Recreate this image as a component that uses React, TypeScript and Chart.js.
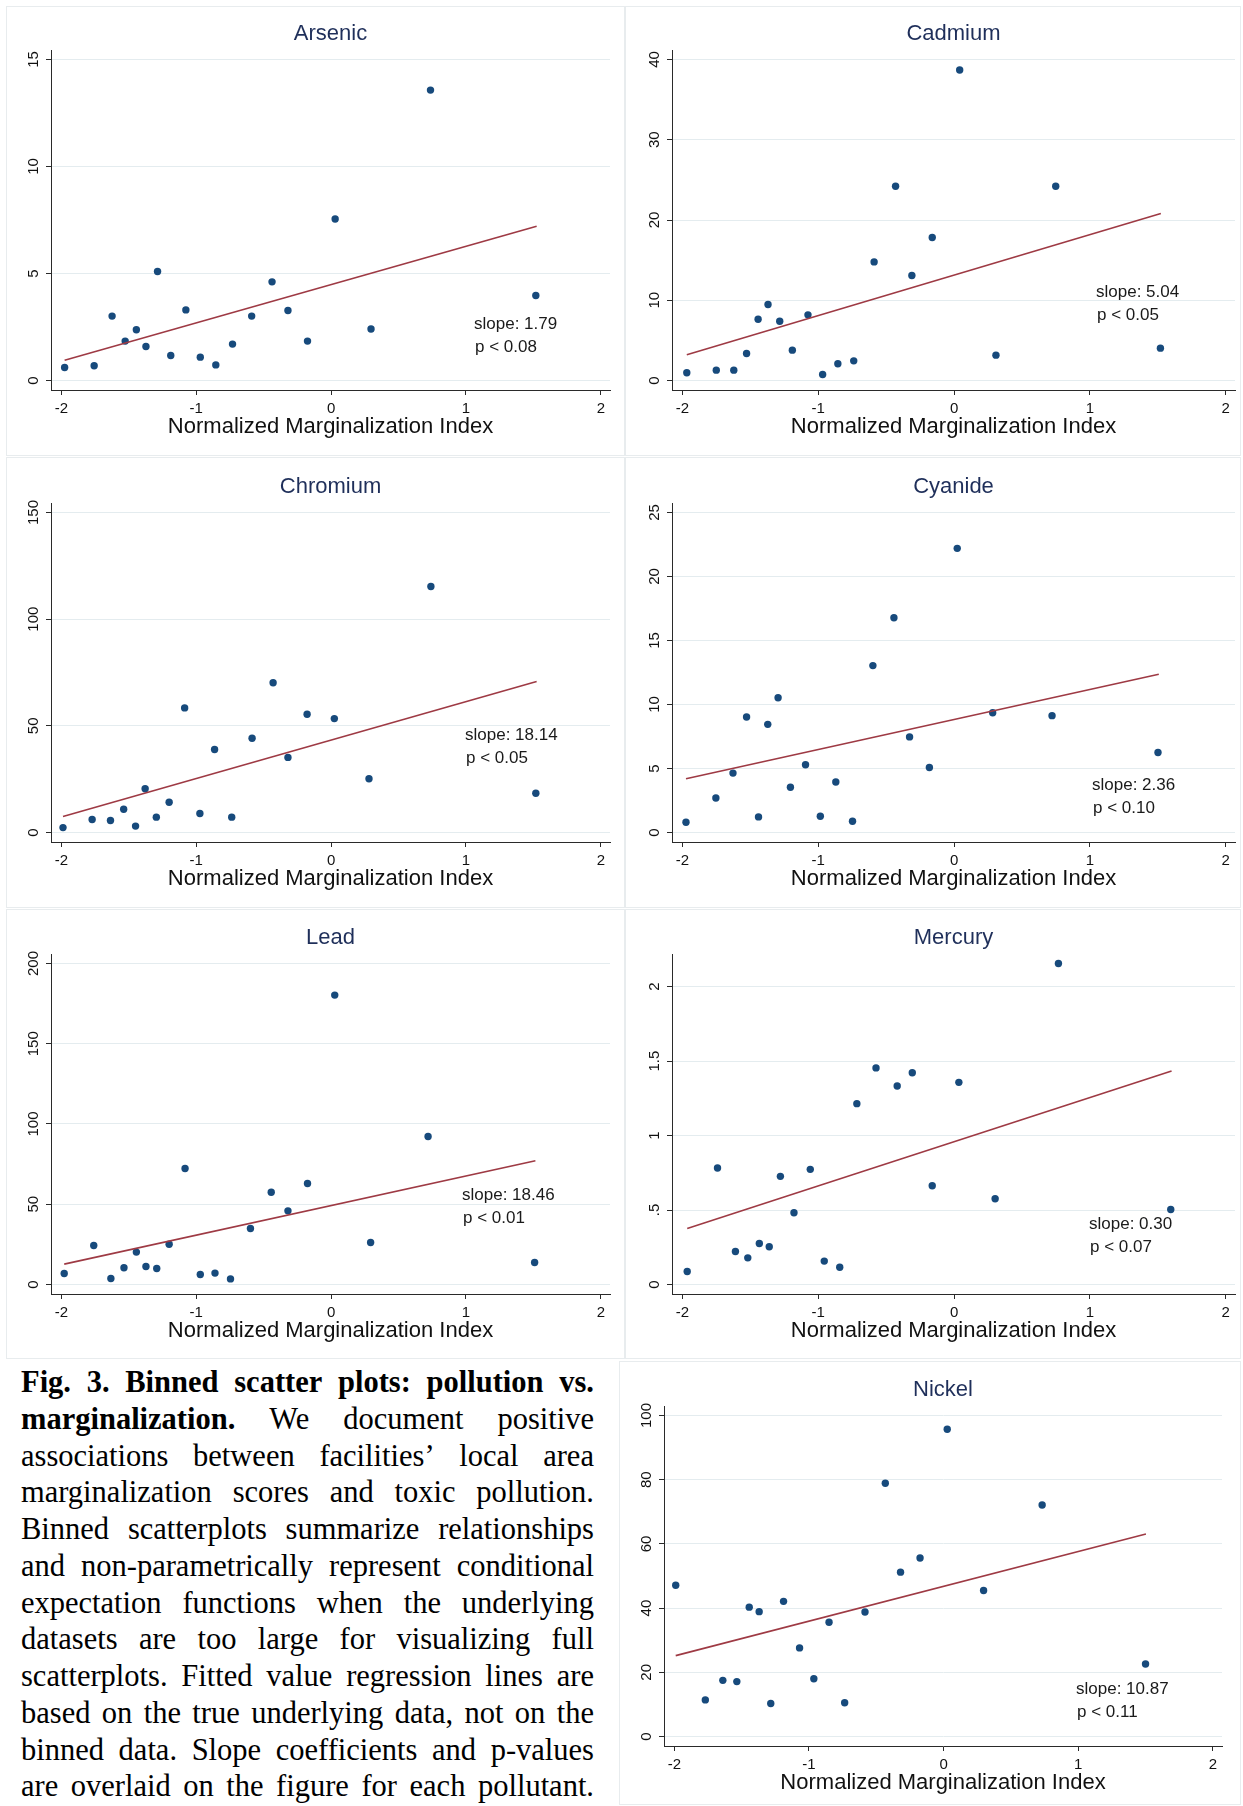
import React, { useEffect, useRef } from 'react';
import { Chart, registerables } from 'chart.js';

Chart.register(...registerables);

// ---------- data ----------
const xTicks = [-2, -1, 0, 1, 2];
const xTickLabels = ['-2', '-1', '0', '1', '2'];
const xAxisTitle = 'Normalized Marginalization Index';

const arsenicX = [-1.976, -1.757, -1.624, -1.527, -1.444, -1.373, -1.287, -1.189, -1.077, -0.97, -0.855, -0.731, -0.589, -0.438, -0.32, -0.175, 0.03, 0.296, 0.737, 1.518];
const arsenicY = [0.61, 0.69, 3.01, 1.84, 2.37, 1.59, 5.09, 1.17, 3.3, 1.09, 0.73, 1.7, 3.01, 4.61, 3.27, 1.84, 7.55, 2.41, 13.57, 3.97];
const arsenicFitX = [-1.976, 1.524];
const arsenicFitY = [0.95, 7.21];
const arsenicYTicks = [0, 5, 10, 15];
const arsenicYLabels = ['0', '5', '10', '15'];

const cadmiumX = [-1.968, -1.751, -1.622, -1.528, -1.443, -1.37, -1.284, -1.191, -1.076, -0.968, -0.856, -0.739, -0.589, -0.431, -0.311, -0.161, 0.041, 0.308, 0.748, 1.519];
const cadmiumY = [0.96, 1.29, 1.29, 3.36, 7.64, 9.47, 7.39, 3.78, 8.18, 0.75, 2.08, 2.45, 14.78, 24.21, 13.08, 17.82, 38.7, 3.16, 24.21, 4.03];
const cadmiumFitX = [-1.968, 1.522];
const cadmiumFitY = [3.2, 20.8];
const cadmiumYTicks = [0, 10, 20, 30, 40];
const cadmiumYLabels = ['0', '10', '20', '30', '40'];

const chromiumX = [-1.988, -1.772, -1.636, -1.538, -1.45, -1.379, -1.296, -1.201, -1.086, -0.973, -0.864, -0.737, -0.586, -0.43, -0.32, -0.178, 0.024, 0.281, 0.74, 1.518];
const chromiumY = [2.3, 6.1, 5.6, 10.9, 3.0, 20.5, 7.2, 14.2, 58.4, 8.9, 38.9, 7.2, 44.2, 70.2, 35.2, 55.4, 53.4, 25.2, 115.3, 18.4];
const chromiumFitX = [-1.988, 1.524];
const chromiumFitY = [7.5, 70.8];
const chromiumYTicks = [0, 50, 100, 150];
const chromiumYLabels = ['0', '50', '100', '150'];

const cyanideX = [-1.974, -1.754, -1.628, -1.528, -1.44, -1.372, -1.296, -1.205, -1.094, -0.985, -0.871, -0.748, -0.598, -0.443, -0.328, -0.182, 0.023, 0.284, 0.721, 1.501];
const cyanideY = [0.8, 2.7, 4.64, 9.02, 1.22, 8.45, 10.53, 3.53, 5.29, 1.27, 3.94, 0.88, 13.04, 16.78, 7.47, 5.08, 22.2, 9.36, 9.13, 6.25];
const cyanideFitX = [-1.974, 1.507];
const cyanideFitY = [4.2, 12.37];
const cyanideYTicks = [0, 5, 10, 15, 20, 25];
const cyanideYLabels = ['0', '5', '10', '15', '20', '25'];

const leadX = [-1.979, -1.76, -1.633, -1.536, -1.444, -1.373, -1.293, -1.201, -1.083, -0.97, -0.861, -0.746, -0.598, -0.444, -0.32, -0.175, 0.027, 0.293, 0.719, 1.509];
const leadY = [6.9, 24.3, 3.7, 10.4, 20.2, 11.2, 10.0, 25.1, 72.3, 6.2, 7.1, 3.5, 34.9, 57.5, 45.9, 62.9, 180.3, 26.2, 92.2, 13.7];
const leadFitX = [-1.979, 1.515];
const leadFitY = [12.7, 77.1];
const leadYTicks = [0, 50, 100, 150, 200];
const leadYLabels = ['0', '50', '100', '150', '200'];

const mercuryX = [-1.965, -1.742, -1.61, -1.519, -1.434, -1.361, -1.279, -1.179, -1.059, -0.956, -0.842, -0.716, -0.575, -0.419, -0.308, -0.161, 0.035, 0.302, 0.768, 1.595];
const mercuryY = [0.087, 0.782, 0.222, 0.179, 0.275, 0.253, 0.726, 0.482, 0.773, 0.157, 0.116, 1.214, 1.454, 1.333, 1.422, 0.663, 1.357, 0.576, 2.155, 0.504];
const mercuryFitX = [-1.965, 1.601];
const mercuryFitY = [0.376, 1.433];
const mercuryYTicks = [0, 0.5, 1, 1.5, 2];
const mercuryYLabels = ['0', '.5', '1', '1.5', '2'];

const nickelX = [-1.99, -1.77, -1.64, -1.536, -1.444, -1.37, -1.284, -1.189, -1.07, -0.964, -0.851, -0.735, -0.584, -0.433, -0.32, -0.175, 0.027, 0.297, 0.732, 1.5];
const nickelY = [47.1, 11.4, 17.5, 17.1, 40.3, 38.9, 10.3, 42.1, 27.6, 18.0, 35.6, 10.5, 38.8, 78.9, 51.2, 55.6, 95.7, 45.5, 72.1, 22.6];
const nickelFitX = [-1.99, 1.503];
const nickelFitY = [25.2, 63.1];
const nickelYTicks = [0, 20, 40, 60, 80, 100];
const nickelYLabels = ['0', '20', '40', '60', '80', '100'];

// caption: each line is a list of [word, bold]
const captionLines: [string, boolean][][] = [
  'Fig. 3. Binned scatter plots: pollution vs.'.split(' ').map((w) => [w, true] as [string, boolean]),
  [['marginalization.', true], ['We', false], ['document', false], ['positive', false]],
  ...[
    'associations between facilities\u2019 local area',
    'marginalization scores and toxic pollution.',
    'Binned scatterplots summarize relationships',
    'and non-parametrically represent conditional',
    'expectation functions when the underlying',
    'datasets are too large for visualizing full',
    'scatterplots. Fitted value regression lines are',
    'based on the true underlying data, not on the',
    'binned data. Slope coefficients and p-values',
    'are overlaid on the figure for each pollutant.',
  ].map((line) => line.split(' ').map((w) => [w, false] as [string, boolean])),
];

// ---------- layout / style ----------
const SANS = '"Liberation Sans", Arial, Helvetica, sans-serif';
const SERIF = '"Liberation Serif", "Times New Roman", serif';
const POINT_COLOR = '#174a7c';
const LINE_COLOR = '#9e3a44';
const TITLE_COLOR = '#1f2f5a';
const AXIS_COLOR = '#2a2a2a';
const GRID_COLOR = '#e4ecef';
const FRAME_COLOR = '#e8ecee';
const X_MIN = -2.077;
const X_MAX = 2.068;
const Y_PAD_PX = 9.5;
const X_SCALE_H = 34;

type Rect = { x: number; y: number; w: number; h: number };
type Plot = { l: number; t: number; r: number; b: number };
type PanelCfg = {
  title: string;
  xs: number[];
  ys: number[];
  fitX: number[];
  fitY: number[];
  yTicks: number[];
  yLabels: string[];
  slope: string;
  p: string;
  note: [number, number];
  frame: Rect;
  plot: Plot;
};

const LEFT_FRAME_X = 6, LEFT_FRAME_W = 619;
const RIGHT_FRAME_X = 625, RIGHT_FRAME_W = 616;
const LEFT_PLOT = { l: 51, r: 610 };
const RIGHT_PLOT = { l: 672, r: 1235 };

const panels: PanelCfg[] = [
  {
    title: 'Arsenic', xs: arsenicX, ys: arsenicY, fitX: arsenicFitX, fitY: arsenicFitY,
    yTicks: arsenicYTicks, yLabels: arsenicYLabels, slope: 'slope: 1.79', p: 'p < 0.08', note: [423, 274],
    frame: { x: LEFT_FRAME_X, y: 6, w: LEFT_FRAME_W, h: 450 }, plot: { ...LEFT_PLOT, t: 50, b: 390 },
  },
  {
    title: 'Cadmium', xs: cadmiumX, ys: cadmiumY, fitX: cadmiumFitX, fitY: cadmiumFitY,
    yTicks: cadmiumYTicks, yLabels: cadmiumYLabels, slope: 'slope: 5.04', p: 'p < 0.05', note: [424, 242],
    frame: { x: RIGHT_FRAME_X, y: 6, w: RIGHT_FRAME_W, h: 450 }, plot: { ...RIGHT_PLOT, t: 50, b: 390 },
  },
  {
    title: 'Chromium', xs: chromiumX, ys: chromiumY, fitX: chromiumFitX, fitY: chromiumFitY,
    yTicks: chromiumYTicks, yLabels: chromiumYLabels, slope: 'slope: 18.14', p: 'p < 0.05', note: [414, 232],
    frame: { x: LEFT_FRAME_X, y: 457, w: LEFT_FRAME_W, h: 451 }, plot: { ...LEFT_PLOT, t: 503, b: 842 },
  },
  {
    title: 'Cyanide', xs: cyanideX, ys: cyanideY, fitX: cyanideFitX, fitY: cyanideFitY,
    yTicks: cyanideYTicks, yLabels: cyanideYLabels, slope: 'slope: 2.36', p: 'p < 0.10', note: [420, 282],
    frame: { x: RIGHT_FRAME_X, y: 457, w: RIGHT_FRAME_W, h: 451 }, plot: { ...RIGHT_PLOT, t: 503, b: 842 },
  },
  {
    title: 'Lead', xs: leadX, ys: leadY, fitX: leadFitX, fitY: leadFitY,
    yTicks: leadYTicks, yLabels: leadYLabels, slope: 'slope: 18.46', p: 'p < 0.01', note: [411, 241],
    frame: { x: LEFT_FRAME_X, y: 909, w: LEFT_FRAME_W, h: 450 }, plot: { ...LEFT_PLOT, t: 954, b: 1294 },
  },
  {
    title: 'Mercury', xs: mercuryX, ys: mercuryY, fitX: mercuryFitX, fitY: mercuryFitY,
    yTicks: mercuryYTicks, yLabels: mercuryYLabels, slope: 'slope: 0.30', p: 'p < 0.07', note: [417, 270],
    frame: { x: RIGHT_FRAME_X, y: 909, w: RIGHT_FRAME_W, h: 450 }, plot: { ...RIGHT_PLOT, t: 954, b: 1294 },
  },
  {
    title: 'Nickel', xs: nickelX, ys: nickelY, fitX: nickelFitX, fitY: nickelFitY,
    yTicks: nickelYTicks, yLabels: nickelYLabels, slope: 'slope: 10.87', p: 'p < 0.11', note: [412, 283],
    frame: { x: 619, y: 1361, w: 622, h: 444 }, plot: { l: 664, t: 1406, r: 1222, b: 1746 },
  },
];

function makeTextPlugin(cfg: PanelCfg) {
  return {
    id: 'panelText' + cfg.title,
    afterDraw(chart: any) {
      const { ctx, chartArea, scales } = chart;
      const yScale = scales.y;
      ctx.save();
      // panel title
      ctx.fillStyle = TITLE_COLOR;
      ctx.font = `22px ${SANS}`;
      ctx.textAlign = 'center';
      ctx.textBaseline = 'middle';
      ctx.fillText(cfg.title, (chartArea.left + chartArea.right) / 2, chartArea.top - 16);
      // x-axis title
      ctx.fillStyle = '#111111';
      ctx.fillText(xAxisTitle, (chartArea.left + chartArea.right) / 2, chartArea.bottom + 37);
      // rotated y tick labels
      ctx.font = `15px ${SANS}`;
      cfg.yTicks.forEach((v, i) => {
        const py = yScale.getPixelForValue(v);
        ctx.save();
        ctx.translate(chartArea.left - 17, py);
        ctx.rotate(-Math.PI / 2);
        ctx.textAlign = 'center';
        ctx.textBaseline = 'middle';
        ctx.fillText(cfg.yLabels[i], 0, 0);
        ctx.restore();
      });
      // slope / p notes
      ctx.font = `17px ${SANS}`;
      ctx.textAlign = 'left';
      ctx.textBaseline = 'middle';
      ctx.fillStyle = '#1a1a1a';
      ctx.fillText(cfg.slope, chartArea.left + cfg.note[0], chartArea.top + cfg.note[1]);
      ctx.fillText(cfg.p, chartArea.left + cfg.note[0] + 1, chartArea.top + cfg.note[1] + 23);
      ctx.restore();
    },
  };
}

function Panel({ cfg }: { cfg: PanelCfg }) {
  const ref = useRef<HTMLCanvasElement | null>(null);
  useEffect(() => {
    const canvas = ref.current;
    if (!canvas) return;
    const { frame, plot } = cfg;
    const yRange = Math.max(cfg.yTicks[cfg.yTicks.length - 1], Math.max(...cfg.ys));
    const unit = (plot.b - plot.t - 2 * Y_PAD_PX) / yRange;
    const yMin = -Y_PAD_PX / unit;
    const yMax = yRange + Y_PAD_PX / unit;
    const chart = new Chart(canvas, {
      type: 'scatter',
      data: {
        datasets: [
          {
            type: 'scatter',
            data: cfg.fitX.map((x, i) => ({ x, y: cfg.fitY[i] })),
            showLine: true,
            borderColor: LINE_COLOR,
            borderWidth: 1.6,
            pointRadius: 0,
            fill: false,
          } as any,
          {
            type: 'scatter',
            data: cfg.xs.map((x, i) => ({ x, y: cfg.ys[i] })),
            pointRadius: 3.7,
            pointBackgroundColor: POINT_COLOR,
            pointBorderWidth: 0,
            borderColor: POINT_COLOR,
          } as any,
        ],
      },
      options: {
        animation: false,
        responsive: false,
        devicePixelRatio: 1,
        layout: {
          padding: {
            left: plot.l - frame.x,
            top: plot.t - frame.y,
            right: frame.x + frame.w - plot.r,
            bottom: frame.y + frame.h - plot.b - X_SCALE_H,
          },
        },
        plugins: {
          legend: { display: false },
          tooltip: { enabled: false },
          title: { display: false },
        },
        scales: {
          x: {
            type: 'linear',
            min: X_MIN,
            max: X_MAX,
            bounds: 'data',
            afterFit: (s: any) => { s.height = X_SCALE_H; },
            afterBuildTicks: (s: any) => { s.ticks = xTicks.map((v) => ({ value: v })); },
            grid: { drawOnChartArea: false, drawTicks: true, tickLength: 5, tickColor: AXIS_COLOR, tickWidth: 1 },
            border: { display: true, color: AXIS_COLOR, width: 1 },
            ticks: {
              autoSkip: false,
              maxRotation: 0,
              minRotation: 0,
              padding: 5,
              color: '#111111',
              font: { family: SANS, size: 15 },
              callback: (v: any) => {
                const idx = xTicks.indexOf(Number(v));
                return idx >= 0 ? xTickLabels[idx] : '';
              },
            },
          },
          y: {
            type: 'linear',
            min: yMin,
            max: yMax,
            bounds: 'data',
            afterFit: (s: any) => { s.width = 0; },
            afterBuildTicks: (s: any) => { s.ticks = cfg.yTicks.map((v) => ({ value: v })); },
            grid: { drawOnChartArea: true, color: GRID_COLOR, lineWidth: 1, drawTicks: true, tickLength: 5, tickColor: AXIS_COLOR, tickWidth: 1 },
            border: { display: true, color: AXIS_COLOR, width: 1 },
            ticks: { display: false },
          },
        },
      } as any,
      plugins: [makeTextPlugin(cfg)],
    });
    return () => chart.destroy();
  }, [cfg]);
  const { frame } = cfg;
  return (
    <>
      <div
        style={{
          position: 'absolute', left: frame.x, top: frame.y, width: frame.w, height: frame.h,
          border: `1px solid ${FRAME_COLOR}`, boxSizing: 'border-box',
        }}
      />
      <canvas
        ref={ref}
        width={frame.w}
        height={frame.h}
        style={{ position: 'absolute', left: frame.x, top: frame.y, width: frame.w, height: frame.h }}
      />
    </>
  );
}

function Caption() {
  return (
    <div style={{ position: 'absolute', left: 21, top: 1364, width: 573, fontFamily: SERIF, fontSize: 30.5, color: '#000' }}>
      {captionLines.map((words, i) => (
        <div
          key={i}
          style={{ height: 36.75, lineHeight: '36.75px', display: 'flex', justifyContent: 'space-between', whiteSpace: 'nowrap' }}
        >
          {words.map(([w, b], j) => (
            <span key={j} style={{ fontWeight: b ? 'bold' : 'normal' }}>{w}</span>
          ))}
        </div>
      ))}
    </div>
  );
}

export default function App() {
  return (
    <div style={{ position: 'absolute', left: 0, top: 0, width: 1243, height: 1806, background: '#ffffff', overflow: 'hidden' }}>
      {panels.map((p) => (
        <Panel key={p.title} cfg={p} />
      ))}
      <Caption />
    </div>
  );
}
